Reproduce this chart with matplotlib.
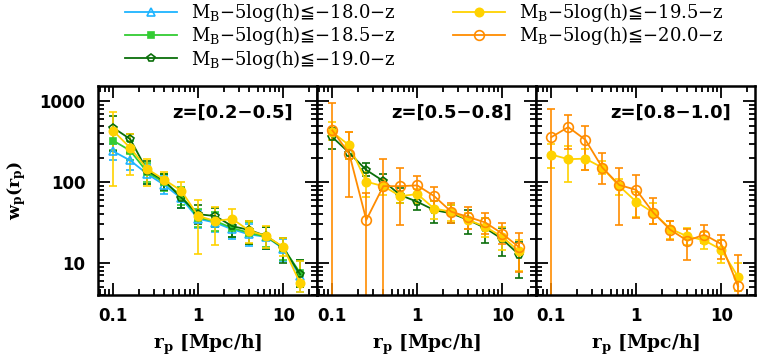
import numpy as np
import matplotlib
matplotlib.use("Agg")
from matplotlib import pyplot as plt
from matplotlib.lines import Line2D
from matplotlib.ticker import FixedLocator, FixedFormatter, LogLocator, NullFormatter

plt.rcParams['font.family'] = ['DejaVu Sans', 'Noto Sans CJK JP']
plt.rcParams['mathtext.default'] = 'regular'

# separations (Mpc/h)
r = [0.1, 0.158, 0.251, 0.398, 0.631, 1.0, 1.58, 2.51, 3.98, 6.31, 10.0, 15.8]

# panel 1: z=[0.2-0.5]
p1_180 = [240, 185, 126, 92, 63, 35, 31.5, 26, 22.5, 21, 15, 6.8]
p1_180_lo = [185, 140, 95, 72, 48, 27, 24, 20, 16, 15, 10.5, 4.3]
p1_180_hi = [300, 240, 165, 118, 82, 45, 41, 33, 30, 28, 20, 10.5]
p1_185 = [325, 245, 132, 99, 68, 36, 33, 27, 23.5, 21, 15.4, 7.5]
p1_185_lo = [250, 185, 100, 78, 52, 28, 25, 21, 17, 15.5, 11, 5]
p1_185_hi = [420, 320, 170, 125, 88, 46, 43, 34, 32, 28, 20.5, 11]
p1_190 = [470, 340, 138, 104, 64, 40, 38, 28.5, 25.5, 21.5, 15.4, 7.2]
p1_190_lo = [240, 230, 95, 80, 48, 30, 28, 21, 17, 15, 10, 5]
p1_190_hi = [650, 390, 180, 125, 85, 52, 48, 36, 33, 28, 20.5, 11]
p1_195 = [430, 265, 145, 107, 78, 38, 33, 35, 25, 21.5, 15.7, 5.6]
p1_195_lo = [90, 121, 90, 93, 58, 12.7, 16.8, 28.4, 17.7, 15.3, 12, 4.3]
p1_195_hi = [730, 395, 192, 133, 100, 60, 48.6, 47, 32.7, 28.4, 20.4, 10.5]

# panel 2: z=[0.5-0.8]
p2_190 = [360, 230, 141, 103, 69, 57, 45, 41, 34, 27, 19.7, 12.6]
p2_190_lo = [260, 195, 120, 80, 55, 45, 31, 31, 23, 17.6, 12, 6.5]
p2_190_hi = [470, 270, 170, 125, 85, 70, 58, 52, 45, 36, 27, 18]
p2_195 = [416, 285, 101, 89, 67, 71, 47, 43, 34, 28, 21, 13.9]
p2_195_lo = [330, 195, 65, 70, 55, 55, 35, 33, 26, 21, 14.5, 8]
p2_195_hi = [550, 420, 135, 105, 78, 82, 58, 52, 42, 36, 28, 19]
p2_200 = [436, 225, 34, 89, 89, 91, 67, 43, 37, 31.6, 23, 15.6]
p2_200_lo = [0, 65, 0, 0, 29, 71, 48, 31, 26, 23, 17, 7.7]
p2_200_hi = [945, 416, 73, 192, 150, 119, 88, 55, 49, 41, 31, 23.4]

# panel 3: z=[0.8-1.0]
p3_195 = [219, 192, 195, 151, 89, 57, 42, 26.4, 21.3, 19, 14.6, 6.7]
p3_195_lo = [150, 100, 140, 125, 70, 37, 30.5, 20, 16.5, 15, 10, 4.5]
p3_195_hi = [300, 280, 260, 180, 110, 75, 55, 33, 27, 24, 19, 10]
p3_200 = [360, 479, 335, 151, 92, 80, 42, 25.7, 18.8, 22.3, 17.1, 5.1]
p3_200_lo = [0, 259, 141, 96, 29.6, 36, 30.5, 19.4, 11, 17.6, 11.3, 0]
p3_200_hi = [805, 685, 493, 230, 150, 122, 63, 32.5, 26.4, 29, 22, 12.4]

z_labels = ["z=[0.2\u22120.5]", "z=[0.5\u22120.8]", "z=[0.8\u22121.0]"]
mag_cuts = ["18.0", "18.5", "19.0", "19.5", "20.0"]

styles = {
    "18.0": dict(color="#1eb4ff", marker="^", mfc="none", ms=5.5),
    "18.5": dict(color="#33cc33", marker="s", mfc="#33cc33", ms=4.5),
    "19.0": dict(color="#0a6e0a", marker="p", mfc="none", ms=6),
    "19.5": dict(color="#ffd200", marker="o", mfc="#ffd200", ms=6),
    "20.0": dict(color="#ff8c00", marker="o", mfc="none", ms=7),
}

panels = [
    [("18.0", p1_180, p1_180_lo, p1_180_hi),
     ("18.5", p1_185, p1_185_lo, p1_185_hi),
     ("19.0", p1_190, p1_190_lo, p1_190_hi),
     ("19.5", p1_195, p1_195_lo, p1_195_hi)],
    [("19.0", p2_190, p2_190_lo, p2_190_hi),
     ("19.5", p2_195, p2_195_lo, p2_195_hi),
     ("20.0", p2_200, p2_200_lo, p2_200_hi)],
    [("19.5", p3_195, p3_195_lo, p3_195_hi),
     ("20.0", p3_200, p3_200_lo, p3_200_hi)],
]

fig, axes = plt.subplots(1, 3, figsize=(7.57, 3.58), dpi=100, sharey=True)
fig.subplots_adjust(left=0.1295, right=0.9974, top=0.76, bottom=0.176, wspace=0)

for ax, series, zlab in zip(axes, panels, z_labels):
    for cut, y, lo, hi in series:
        y = np.array(y, dtype=float)
        err = [y - np.array(lo), np.array(hi) - y]
        st = styles[cut]
        ax.errorbar(r, y, yerr=err, color=st["color"], marker=st["marker"],
                    mfc=st["mfc"], mec=st["color"], ms=st["ms"], mew=1.2,
                    lw=1.3, elinewidth=1.2, capsize=3, capthick=1.2)
    ax.set_xscale("log")
    ax.set_yscale("log", nonpositive="clip")
    ax.set_xlim(0.066, 25)
    ax.set_ylim(4.0, 1550)
    ax.xaxis.set_major_locator(FixedLocator([0.1, 1, 10]))
    ax.xaxis.set_major_formatter(FixedFormatter(["0.1", "1", "10"]))
    ax.xaxis.set_minor_locator(LogLocator(base=10, subs=np.arange(2, 10)))
    ax.xaxis.set_minor_formatter(NullFormatter())
    ax.yaxis.set_major_locator(FixedLocator([10, 100, 1000]))
    ax.yaxis.set_major_formatter(FixedFormatter(["10", "100", "1000"]))
    ax.yaxis.set_minor_locator(LogLocator(base=10, subs=np.arange(2, 10)))
    ax.yaxis.set_minor_formatter(NullFormatter())
    ax.tick_params(which="both", direction="in", top=True, right=True, width=1.3)
    ax.tick_params(which="major", length=8.5, labelsize=12, pad=9)
    ax.tick_params(which="minor", length=4.5)
    for lab in ax.get_xticklabels() + ax.get_yticklabels():
        lab.set_fontweight("bold")
    for sp in ax.spines.values():
        sp.set_linewidth(1.8)
    ax.text(0.89, 0.87, zlab, transform=ax.transAxes, ha="right", va="center",
            fontsize=13, fontweight="bold")
    ax.set_xlabel("r$_\\mathregular{p}$ [Mpc/h]", fontsize=13.5, fontweight="bold",
                  family="DejaVu Serif", labelpad=5)

axes[0].set_ylabel("w$_\\mathregular{p}$(r$_\\mathregular{p}$)", fontsize=12.5,
                   fontweight="bold", family="DejaVu Serif")
axes[0].yaxis.set_label_coords(-0.318, 0.5)

handles = []
for cut in mag_cuts:
    st = styles[cut]
    handles.append(Line2D([], [], color=st["color"], marker=st["marker"], mfc=st["mfc"],
                          mec=st["color"], ms=st["ms"], mew=1.2, lw=1.3))
labels = ["M$_\\mathregular{B}$\u22125log(h)$\\mathsf{\u2266}$\u2212" + c + "\u2212z"
          for c in mag_cuts]
fig.legend(handles, labels, loc="upper left", ncol=2,
           bbox_to_anchor=(125 / 757, 1 - 1 / 358), frameon=False,
           prop={"family": "DejaVu Serif", "size": 13},
           borderpad=0, borderaxespad=0, handlelength=2.9, handletextpad=0.75,
           columnspacing=3.15, labelspacing=0.02)

plt.savefig("out.png", dpi=100)
